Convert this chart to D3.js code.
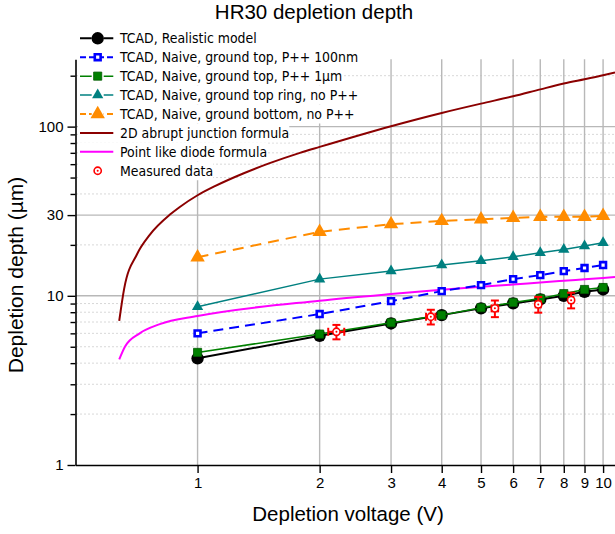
<!DOCTYPE html>
<html>
<head>
<meta charset="utf-8">
<script src="https://cdn.jsdelivr.net/npm/d3@7"></script>
<style>
body { margin: 0; background: #fff; }
text { font-family: 'Liberation Sans', Arial, sans-serif; }
</style>
</head>
<body>
<script>
// simulated points, one per bias voltage
const volts = [1, 2, 3, 4, 5, 6, 7, 8, 9, 10];
const realistic = [4.27, 5.8, 6.86, 7.69, 8.43, 9.02, 9.51, 10.0, 10.56, 10.9];
const naive100nm = [6.0, 7.8, 9.3, 10.66, 11.57, 12.55, 13.25, 14.0, 14.6, 15.2];
const naive1um = [4.63, 5.94, 6.93, 7.69, 8.5, 9.14, 9.65, 10.3, 10.9, 11.2];
const topRing = [8.61, 12.55, 14.0, 15.2, 16.1, 17.0, 17.95, 18.8, 19.7, 20.6];
const groundBottom = [16.9, 23.9, 26.5, 27.7, 28.3, 28.9, 29.3, 29.3, 29.3, 29.7];

// formula curves
const abruptV = [0.641, 0.659, 0.709, 0.763, 0.855, 0.904, 1.0, 1.1, 1.3, 1.5, 1.788, 2, 3, 4, 5, 6, 7, 8, 9, 10, 10.7];
const abruptD = [7.12, 11.0, 17.6, 23.0, 30.2, 33.5, 39.3, 44.3, 53, 60.6, 70, 75.9, 100.6, 120.5, 136.8, 151, 166, 179.7, 190.6, 201, 208.7];
const pointV = [0.641, 0.662, 0.72, 0.807, 1, 2, 3, 4, 5, 6, 7, 8, 9, 10, 10.7];
const pointD = [4.21, 5.0, 6.0, 6.8, 7.6, 9.36, 10.24, 10.85, 11.3, 11.65, 12.0, 12.28, 12.52, 12.75, 12.92];

// measurements with errors
const measV = [2.2, 3.76, 5.41, 6.92, 8.34];
const measD = [6.13, 7.52, 8.43, 8.9, 9.43];
const measVerr = [0.1, 0.1, 0.1, 0.1, 0.1];
const measDerr = [0.6, 0.75, 0.95, 0.95, 1.0];

const yMajor = [1, 10, 30, 100];
const yMinor = [2, 3, 4, 5, 6, 7, 8, 9, 20, 40, 50, 60, 70, 80, 90, 200];

const legendNames = [
  "TCAD, Realistic model",
  "TCAD, Naive, ground top, P++ 100nm",
  "TCAD, Naive, ground top, P++ 1\u00b5m",
  "TCAD, Naive, ground top ring, no P++",
  "TCAD, Naive, ground bottom, no P++",
  "2D abrupt junction formula",
  "Point like diode formula",
  "Measured data"
];

window.onload = function () {

let width = 615,
    height = 534;

let svg = d3.select("body").append("svg")
    .attr("width", width).attr("height", height);

let x = d3.scaleLog().domain([0.5, 10.7]).range([75.5, 615]);
let y = d3.scaleLog().domain([1, 250]).range([465, 59.3]);

svg.append("clipPath").attr("id", "plot")
  .append("rect").attr("x", 75).attr("y", 59).attr("width", 540).attr("height", 406);

// grid
let grid = svg.append("g");
grid.selectAll(".hmin").data(yMinor).enter().append("line")
    .attr("x1", 76).attr("x2", 615)
    .attr("y1", d => y(d)).attr("y2", d => y(d))
    .attr("stroke", "#d8d8d8").attr("stroke-width", 1).attr("stroke-dasharray", "2,2");
grid.selectAll(".hmaj").data([10, 30, 100]).enter().append("line")
    .attr("x1", 76).attr("x2", 615)
    .attr("y1", d => y(d)).attr("y2", d => y(d))
    .attr("stroke", "#b8b8b8").attr("stroke-width", 1.4);
grid.selectAll(".vmaj").data(volts).enter().append("line")
    .attr("x1", d => x(d)).attr("x2", d => x(d))
    .attr("y1", 59.3).attr("y2", 465)
    .attr("stroke", "#b8b8b8").attr("stroke-width", 1.4);

// styles per series
let series = [
  {v: volts, d: realistic, color: "#000000", w: 2, dash: null, sym: "circle"},
  {v: volts, d: naive100nm, color: "#0000ff", w: 2, dash: "10,6", sym: "open"},
  {v: volts, d: naive1um, color: "#008000", w: 1.5, dash: null, sym: "square"},
  {v: volts, d: topRing, color: "#008080", w: 1.5, dash: null, sym: "tri"},
  {v: volts, d: groundBottom, color: "#ff8c00", w: 2, dash: "11,7", sym: "bigtri"},
  {v: abruptV, d: abruptD, color: "#8b0000", w: 2, dash: null, sym: null, smooth: true},
  {v: pointV, d: pointD, color: "#ff00ff", w: 2, dash: null, sym: null, smooth: true}
];

function drawSymbol(g, sym, color) {
  if (sym == "circle") {
    g.append("path").attr("d", d3.symbol(d3.symbolCircle, 120)())
      .attr("fill", "#000");
  } else if (sym == "open") {
    g.append("path").attr("d", d3.symbol(d3.symbolSquare, 34)())
      .attr("fill", "#fff").attr("stroke", color).attr("stroke-width", 2.6);
  } else if (sym == "square") {
    g.append("path").attr("d", d3.symbol(d3.symbolSquare, 66)())
      .attr("fill", color).attr("stroke", "#005a00").attr("stroke-width", 0.8);
  } else if (sym == "tri") {
    g.append("path").attr("d", d3.symbol(d3.symbolTriangle, 55)())
      .attr("fill", color);
  } else if (sym == "bigtri") {
    g.append("path").attr("d", d3.symbol(d3.symbolTriangle, 90)())
      .attr("fill", color);
  } else if (sym == "meas") {
    g.append("circle").attr("r", 3.6).attr("fill", "#fff").attr("stroke", color).attr("stroke-width", 1.6);
    g.append("circle").attr("r", 1).attr("fill", color);
  }
}

let plot = svg.append("g").attr("clip-path", "url(#plot)");
let line = d3.line().x(d => x(d[0])).y(d => y(d[1]));
let smoothLine = d3.line().x(d => x(d[0])).y(d => y(d[1])).curve(d3.curveMonotoneX);

let drawOrder = [5, 6, 4, 3, 1, 0, 2];
drawOrder.forEach(function (i) {
  let s = series[i];
  let pts = s.v.map((v, k) => [v, s.d[k]]);
  plot.append("path").datum(pts)
      .attr("d", s.smooth ? smoothLine : line)
      .attr("fill", "none")
      .attr("stroke", s.color)
      .attr("stroke-width", s.w)
      .attr("stroke-dasharray", s.dash);
  if (s.sym) {
    pts.forEach(function (p) {
      let g = plot.append("g").attr("transform", "translate(" + x(p[0]) + "," + y(p[1]) + ")");
      drawSymbol(g, s.sym, s.color);
    });
  }
});

// measured points with error bars
let meas = plot.selectAll(".meas").data(measV).enter().append("g");
meas.each(function (v, k) {
  let g = d3.select(this);
  let cx = x(v), cy = y(measD[k]);
  let x0 = x(v - measVerr[k]), x1 = x(v + measVerr[k]);
  let y0 = y(measD[k] - measDerr[k]), y1 = y(measD[k] + measDerr[k]);
  let red = "#ff0000";
  g.append("line").attr("x1", cx).attr("x2", cx).attr("y1", y0).attr("y2", y1).attr("stroke", red).attr("stroke-width", 2);
  g.append("line").attr("x1", x0).attr("x2", x1).attr("y1", cy).attr("y2", cy).attr("stroke", red).attr("stroke-width", 2);
  [y0, y1].forEach(yy => g.append("line").attr("x1", cx - 4).attr("x2", cx + 4).attr("y1", yy).attr("y2", yy).attr("stroke", red).attr("stroke-width", 2));
  [x0, x1].forEach(xx => g.append("line").attr("x1", xx).attr("x2", xx).attr("y1", cy - 4).attr("y2", cy + 4).attr("stroke", red).attr("stroke-width", 2));
  let m = g.append("g").attr("transform", "translate(" + cx + "," + cy + ")");
  drawSymbol(m, "meas", red);
});

// axes
svg.append("g").attr("transform", "translate(75.5,0)")
    .call(d3.axisLeft(y).tickValues(yMajor).tickSize(8).tickSizeOuter(0).tickPadding(4).tickFormat(d3.format("d")));
svg.append("g").attr("transform", "translate(75.5,0)")
    .call(d3.axisLeft(y).tickValues(yMinor).tickSize(5).tickSizeOuter(0).tickFormat(""))
    .select(".domain").remove();
svg.append("g").attr("transform", "translate(0,465)")
    .call(d3.axisBottom(x).tickValues(volts).tickSize(8).tickSizeOuter(0).tickPadding(4).tickFormat(d3.format("d")));

svg.selectAll(".domain").attr("stroke-width", 1.6).attr("stroke", "#000");
svg.selectAll(".tick line").attr("stroke-width", 1.4);
svg.selectAll(".tick text").attr("font-size", 15).attr("font-family", "'Liberation Sans', Arial, sans-serif").attr("fill", "#000");

// legend
let legend = svg.append("g");
legendNames.forEach(function (name, i) {
  let cy = 38.3 + i * 18.92;
  let row = legend.append("g");
  let txt = row.append("text")
      .attr("x", 120).attr("y", cy + 5)
      .attr("font-size", 13.9)
      .style("font-family", "'DejaVu Sans Condensed', 'DejaVu Sans', sans-serif")
      .style("font-stretch", "condensed")
      .text(name);
  let tw = txt.node().getComputedTextLength();
  row.insert("rect", "text")
      .attr("x", 78).attr("y", cy - 9.4)
      .attr("width", 120 + tw - 78).attr("height", 18.9)
      .attr("fill", "#fff");
  if (i < 7) {
    let s = series[i];
    row.append("line").attr("x1", 80).attr("x2", 113.3).attr("y1", cy).attr("y2", cy)
        .attr("stroke", s.color).attr("stroke-width", s.w)
        .attr("stroke-dasharray", s.dash ? "6,3" : null);
    if (s.sym) {
      let g = row.append("g").attr("transform", "translate(97.7," + cy + ")");
      if (s.sym != "open") g.append("rect").attr("x", -6).attr("y", -6).attr("width", 12).attr("height", 12).attr("fill", "#fff");
      drawSymbol(g, s.sym, s.color);
    }
  } else {
    let g = row.append("g").attr("transform", "translate(97.7," + cy + ")");
    drawSymbol(g, "meas", "#ff0000");
  }
});

// titles
svg.append("text").attr("x", 314).attr("y", 19).attr("text-anchor", "middle")
    .attr("font-size", 20.5).text("HR30 depletion depth");
svg.append("text").attr("x", 348).attr("y", 521).attr("text-anchor", "middle")
    .attr("font-size", 20.5).text("Depletion voltage (V)");
svg.append("text").attr("transform", "translate(23,275) rotate(-90)").attr("text-anchor", "middle")
    .attr("font-size", 21).text("Depletion depth (\u00b5m)");

};
</script>
</body>
</html>
